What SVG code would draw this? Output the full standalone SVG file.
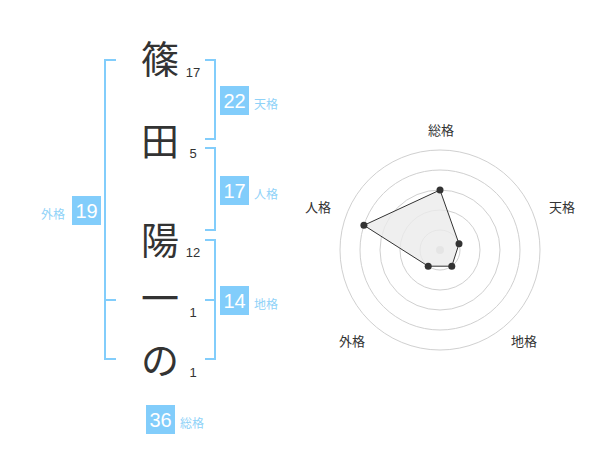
<svg xmlns="http://www.w3.org/2000/svg" width="600" height="470" viewBox="0 0 600 470">
<style>
.ch{font-family:"Noto Sans CJK JP","Noto Sans CJK SC",sans-serif;font-size:38px;fill:#333;text-anchor:middle}
.st{font-family:"Liberation Sans",Arial,sans-serif;font-size:13px;fill:#333;text-anchor:middle}
.br{fill:none;stroke:#82cdfb;stroke-width:2}
.box{fill:#82cdfb}
.bn{font-family:"Liberation Sans",Arial,sans-serif;font-size:20px;fill:#fff;text-anchor:middle}
.bl{font-family:"Noto Sans CJK JP",sans-serif;font-size:12px;fill:#8fd2f8}
.rl{font-family:"Noto Sans CJK JP",sans-serif;font-size:13px;fill:#333;text-anchor:middle}
.ring{fill:none;stroke:#d0d0d0;stroke-width:1}
.pt{fill:#333}
</style>
<rect width="600" height="470" fill="#fff"/>
<g id="connectors">
<path class="br" d="M116,60 H105 V359 H116 M105,300 H116"/>
<path class="br" d="M205,60 H215 V139 H205"/>
<path class="br" d="M205,148 H215 V230 H205"/>
<path class="br" d="M205,240 H215 V359 H205 M205,300 H215"/>
</g>
<g id="char1"><text class="ch" x="160" y="73">篠</text><text class="st" x="193" y="77">17</text></g>
<g id="char2"><text class="ch" x="160" y="155">田</text><text class="st" x="193" y="158">5</text></g>
<g id="char3"><text class="ch" x="160" y="254">陽</text><text class="st" x="193" y="257">12</text></g>
<g id="char4"><text class="ch" x="160" y="312">一</text><text class="st" x="193" y="317">1</text></g>
<g id="char5"><text class="ch" x="160" y="374">の</text><text class="st" x="193" y="377">1</text></g>
<g id="tenkaku"><rect class="box" x="220" y="86" width="29" height="29"/><text class="bn" x="234.5" y="108">22</text><text class="bl" x="254" y="109">天格</text></g>
<g id="jinkaku"><rect class="box" x="220" y="176" width="29" height="29"/><text class="bn" x="234.5" y="198">17</text><text class="bl" x="254" y="199">人格</text></g>
<g id="gaikaku"><rect class="box" x="72" y="196" width="29" height="29"/><text class="bn" x="86.5" y="218">19</text><text class="bl" x="41" y="219">外格</text></g>
<g id="chikaku"><rect class="box" x="220" y="286" width="29" height="29"/><text class="bn" x="234.5" y="308">14</text><text class="bl" x="254" y="309">地格</text></g>
<g id="soukaku"><rect class="box" x="146" y="405" width="29" height="29"/><text class="bn" x="160.5" y="427">36</text><text class="bl" x="180" y="428">総格</text></g>
<g id="radar">
<circle class="ring" cx="440" cy="250" r="20"/>
<circle class="ring" cx="440" cy="250" r="40"/>
<circle class="ring" cx="440" cy="250" r="60"/>
<circle class="ring" cx="440" cy="250" r="80"/>
<circle class="ring" cx="440" cy="250" r="100"/>
<circle cx="440" cy="250" r="4" fill="#ccc"/>
<polygon points="440,190 459,243.8 451.8,266.2 428.2,266.2 363.9,225.3" fill="#ebebeb" fill-opacity="0.8" stroke="#333" stroke-width="1"/>
<circle class="pt" cx="440" cy="190" r="3.5"/>
<circle class="pt" cx="459" cy="243.8" r="3.5"/>
<circle class="pt" cx="451.8" cy="266.2" r="3.5"/>
<circle class="pt" cx="428.2" cy="266.2" r="3.5"/>
<circle class="pt" cx="363.9" cy="225.3" r="3.5"/>
<text class="rl" x="441" y="135">総格</text>
<text class="rl" x="562" y="212">天格</text>
<text class="rl" x="318" y="212">人格</text>
<text class="rl" x="352" y="346">外格</text>
<text class="rl" x="524" y="346">地格</text>
</g>
</svg>
